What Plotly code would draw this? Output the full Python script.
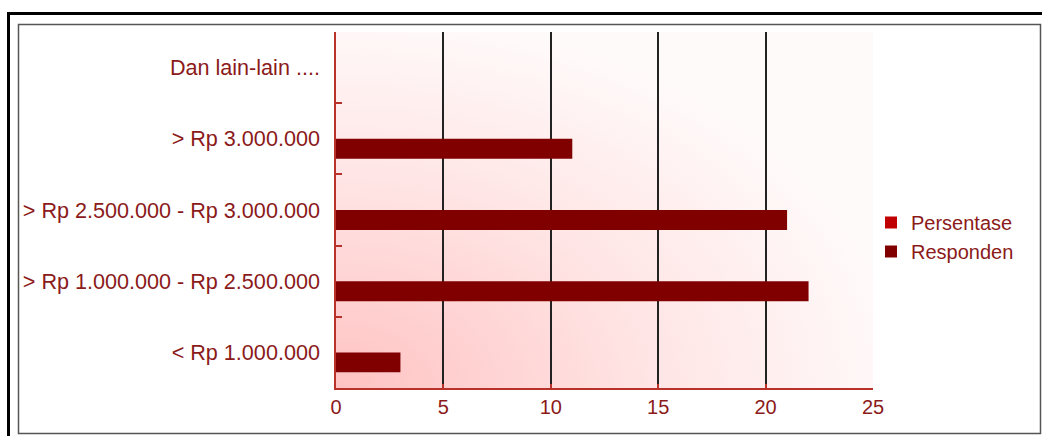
import base64
import plotly.graph_objects as go

# ---- data ----
categories = [
    "< Rp 1.000.000",
    "> Rp 1.000.000 - Rp 2.500.000",
    "> Rp 2.500.000 - Rp 3.000.000",
    "> Rp 3.000.000",
    "Dan lain-lain ....",
]
responden = [3, 22, 21, 11, 0]
persentase = [0, 0, 0, 0, 0]
x_ticks = [0, 5, 10, 15, 20, 25]

W, H = 1042, 436
L, R, T, B = 336, 873, 32, 388  # plot area in pixels

def px(x):
    return (x - L) / (R - L)

def py(y):
    return (B - y) / (B - T)

TEXT = "#8b1a1a"
AXIS = "#b8322a"

svg = (
    '<svg xmlns="http://www.w3.org/2000/svg" width="100" height="100" '
    'viewBox="0 0 100 100" preserveAspectRatio="none">'
    '<defs><radialGradient id="g" cx="0" cy="1" r="1.05" gradientUnits="objectBoundingBox">'
    '<stop offset="0" stop-color="#ffc2c2"/>'
    '<stop offset="0.55" stop-color="#ffe4e4"/>'
    '<stop offset="1" stop-color="#fffafa"/>'
    '</radialGradient></defs>'
    '<rect x="0" y="0" width="100" height="100" fill="url(#g)"/></svg>'
)
src = "data:image/svg+xml;base64," + base64.b64encode(svg.encode()).decode()

fig = go.Figure()
fig.add_trace(go.Bar(
    y=categories, x=responden, orientation="h", name="Responden",
    marker=dict(color="#800000", line=dict(width=0)),
))
fig.add_trace(go.Bar(
    y=categories, x=persentase, orientation="h", name="Persentase",
    marker=dict(color="#c00000", line=dict(width=0)),
))

shapes = [
    dict(type="rect", xref="paper", yref="paper",
         x0=px(8.5), x1=px(1046), y0=py(441), y1=py(13.5),
         line=dict(color="#000000", width=3), fillcolor="rgba(0,0,0,0)", layer="above"),
    dict(type="rect", xref="paper", yref="paper",
         x0=px(18.5), x1=px(1040.5), y0=py(433.5), y1=py(24.5),
         line=dict(color="#555555", width=1.5), fillcolor="rgba(0,0,0,0)", layer="above"),
]

fig.update_layout(
    width=W, height=H,
    margin=dict(l=L, r=W - R, t=T, b=H - B, pad=0),
    paper_bgcolor="white",
    plot_bgcolor="rgba(0,0,0,0)",
    barmode="group",
    bargap=0.44,
    bargroupgap=0,
    font=dict(family="Liberation Sans, Arial, sans-serif", color=TEXT, size=20),
    showlegend=True,
    legend=dict(
        x=px(871), y=py(237), xanchor="left", yanchor="middle",
        traceorder="reversed", bgcolor="rgba(0,0,0,0)",
        font=dict(size=20, color=TEXT),
        itemclick=False,
    ),
    images=[dict(source=src, xref="paper", yref="paper", x=0, y=1,
                 sizex=1, sizey=1, xanchor="left", yanchor="top",
                 sizing="stretch", layer="below")],
    shapes=shapes,
    xaxis=dict(
        range=[0, 25], tickvals=x_ticks, ticktext=[str(v) for v in x_ticks],
        showgrid=True, gridcolor="#222222", gridwidth=1.5,
        showline=True, linecolor=AXIS, linewidth=1.5,
        ticks="inside", ticklen=4, tickcolor=AXIS, tickwidth=1.5,
        zeroline=False, tickfont=dict(size=20, color=TEXT),
        fixedrange=True,
    ),
    yaxis=dict(
        type="category", categoryorder="array", categoryarray=categories,
        showgrid=False, showline=True, linecolor=AXIS, linewidth=1.5,
        ticks="inside", tickson="boundaries", ticklen=6, tickcolor=AXIS, tickwidth=1.5,
        tickfont=dict(size=21.6, color=TEXT), ticklabelstandoff=10,
        zeroline=False, fixedrange=True,
    ),
)

fig.write_html("out.html", config={"displayModeBar": False})
